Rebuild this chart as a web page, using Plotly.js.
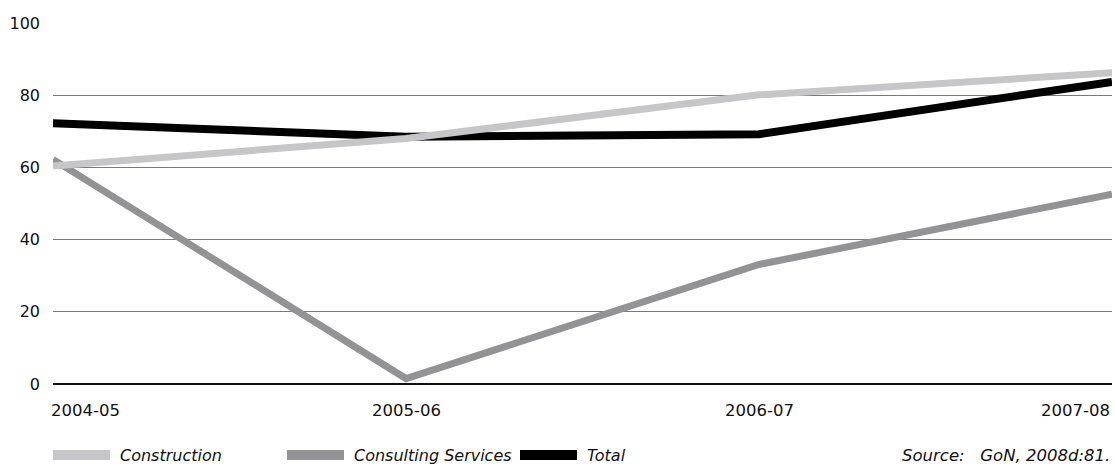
<!DOCTYPE html>
<html>
<head>
<meta charset="utf-8">
<script src="https://cdn.plot.ly/plotly-3.0.1.min.js"></script>
<style>html,body{margin:0;padding:0;background:#fff;}#chart{width:1115px;height:467px;}</style>
</head>
<body>
<div id="chart"></div>
<script>
const categories = ["2004-05", "2005-06", "2006-07", "2007-08"];
const construction = [60.4, 68.0, 80.1, 86.2];
const consulting = [62.2, 1.5, 33.1, 52.6];
const total = [72.2, 68.5, 69.2, 83.7];
const yTicks = [0, 20, 40, 60, 80, 100];
const seriesNames = ["Construction", "Consulting Services", "Total"];
const sourceText = "Source:\u00a0\u00a0 GoN, 2008d:81.";

const colors = ["#c6c6c8", "#939396", "#000000"];
const widths = [7, 7, 8];
const values = [construction, consulting, total];
const FONT = "DejaVu Sans, sans-serif";

// drawing order: consulting, total, construction (construction on top)
const order = [1, 2, 0];
const traces = order.map(i => ({
  type: "scatter", mode: "lines", x: categories, y: values[i], name: seriesNames[i],
  line: {color: colors[i], width: widths[i]}, showlegend: false, hoverinfo: "skip"
}));

const annotations = [];
const shapes = [];
// x tick labels
categories.forEach((c, i) => {
  annotations.push({
    x: c, xref: "x", y: 0, yref: "paper", yshift: -15, text: c, showarrow: false,
    xanchor: i === 0 ? "left" : (i === categories.length - 1 ? "right" : "center"),
    xshift: i === 0 ? -4 : 0,
    yanchor: "top", font: {family: FONT, size: 16.5, color: "#111"}
  });
});
// custom legend
const legendX = [53, 287, 520];
const ly = -71 / 360.5;
seriesNames.forEach((n, i) => {
  shapes.push({type: "line", xref: "paper", yref: "paper",
    x0: (legendX[i] - 53) / 1059, x1: (legendX[i] + 57 - 53) / 1059,
    y0: ly, y1: ly,
    line: {color: colors[i], width: 10}});
  annotations.push({xref: "paper", yref: "paper", x: (legendX[i] + 65 - 53) / 1059, y: ly,
    text: "<i>" + n + "</i>", showarrow: false, xanchor: "left", yanchor: "middle",
    font: {family: FONT, size: 16, color: "#111"}});
});
annotations.push({xref: "paper", yref: "paper", x: 1, y: ly, text: "<i>" + sourceText + "</i>",
  showarrow: false, xanchor: "right", yanchor: "middle", font: {family: FONT, size: 16.5, color: "#111"}});

const layout = {
  width: 1115, height: 467,
  margin: {l: 53, r: 3, t: 23, b: 83},
  paper_bgcolor: "#fff", plot_bgcolor: "#fff",
  showlegend: false,
  font: {family: FONT, size: 16, color: "#111"},
  xaxis: {type: "category", range: [0, categories.length - 1], showgrid: false, zeroline: false,
    showline: false, showticklabels: false, ticks: ""},
  yaxis: {range: [0, 100], tickvals: yTicks, ticktext: yTicks.map(String), showgrid: true,
    gridcolor: "#7a7a7a", gridwidth: 1.2, zeroline: true, zerolinecolor: "#111", zerolinewidth: 1.5,
    showline: false, ticks: "", ticklabelstandoff: 12, tickfont: {family: FONT, size: 16, color: "#111"}},
  shapes: shapes,
  annotations: annotations
};

Plotly.newPlot("chart", traces, layout, {displayModeBar: false, staticPlot: true});
</script>
</body>
</html>
